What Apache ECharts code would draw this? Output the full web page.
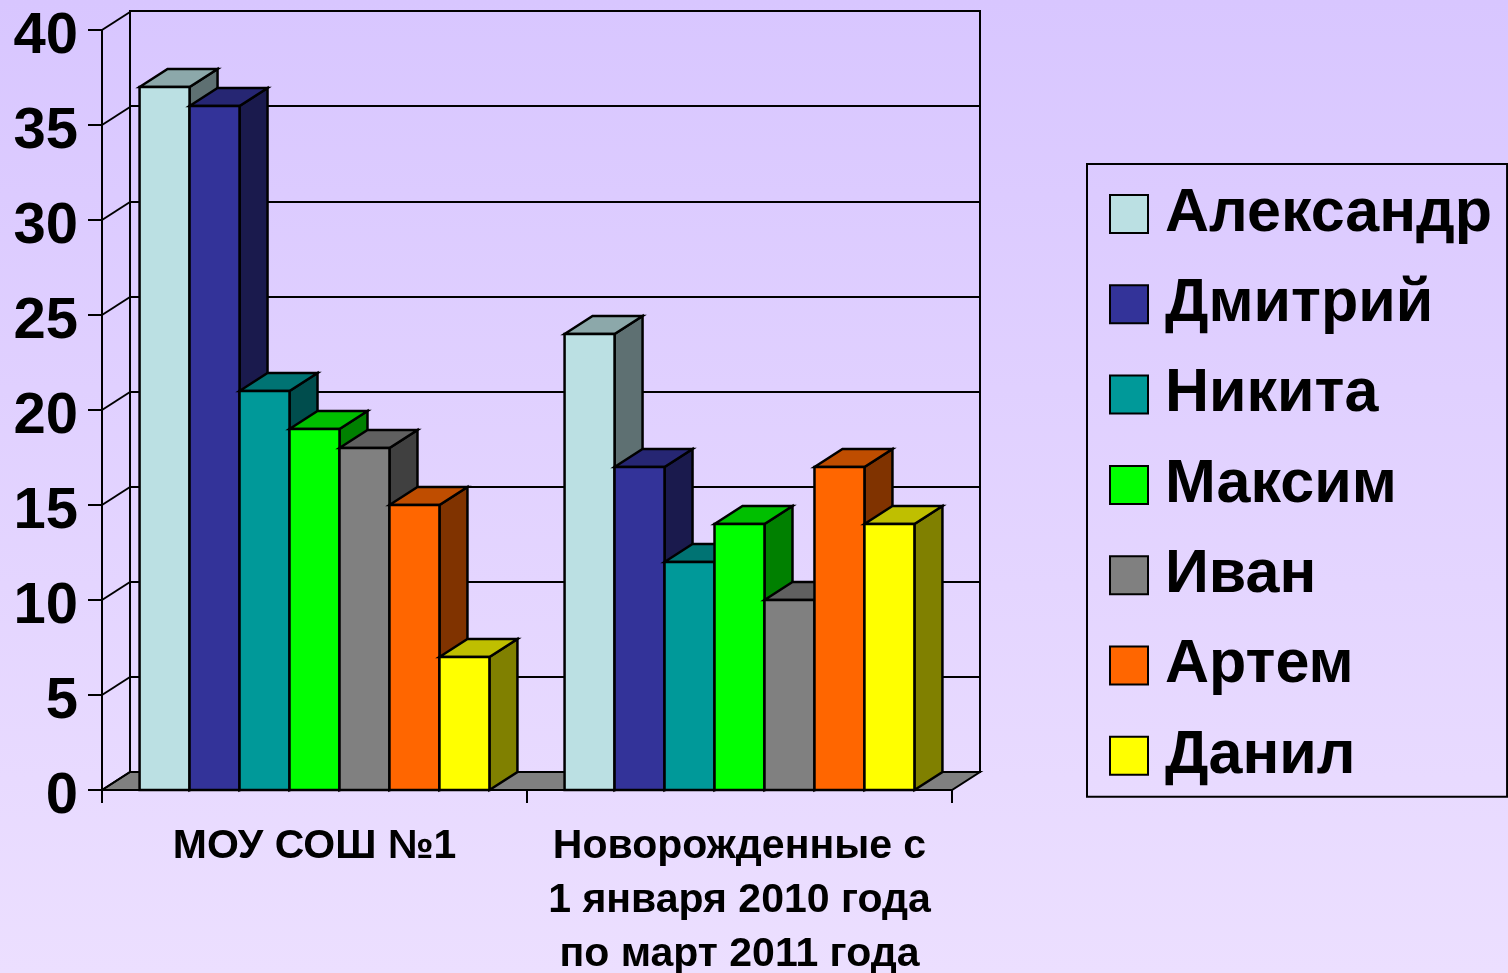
<!DOCTYPE html>
<html>
<head>
<meta charset="utf-8">
<script src="https://cdn.jsdelivr.net/npm/echarts@6/dist/echarts.min.js"></script>
<style>
  html, body { margin: 0; padding: 0; }
  #chart { width: 1508px; height: 973px; }
</style>
</head>
<body>
<div id="chart"></div>
<script>
const categories = ['МОУ СОШ №1', 'Новорожденные с\n1 января 2010 года\nпо март 2011 года']
const seriesNames = ['Александр', 'Дмитрий', 'Никита', 'Максим', 'Иван', 'Артем', 'Данил']
const aleksandr = [37, 24]
const dmitriy = [36, 17]
const nikita = [21, 12]
const maksim = [19, 14]
const ivan = [18, 10]
const artem = [15, 17]
const danil = [7, 14]
const seriesValues = [aleksandr, dmitriy, nikita, maksim, ivan, artem, danil]
const yTicks = [0, 5, 10, 15, 20, 25, 30, 35, 40]

// front, top and side faces of each bar
const faceColors = [
  ['#bbe0e3', '#8ca8aa', '#5e7072'],
  ['#333399', '#262673', '#1a1a4d'],
  ['#009999', '#007373', '#004d4d'],
  ['#00ff00', '#00bf00', '#008000'],
  ['#808080', '#606060', '#404040'],
  ['#ff6600', '#bf4d00', '#803300'],
  ['#ffff00', '#bfbf00', '#808000']
]

const depthX = 28
const depthY = 18
const lineStyle = { stroke: '#000', lineWidth: 2 }
const barLineStyle = { stroke: '#000', lineWidth: 2.5 }
const fontFamily = '"Liberation Sans", Arial, sans-serif'

function renderBar(params, api) {
  const seriesIndex = params.seriesIndex - 1
  const cat = api.value(0)
  const top = api.coord([cat, api.value(1)])
  const base = api.coord([cat, 0])
  const band = api.size([1, 0])[0]
  const barWidth = band * 0.1176
  const x = top[0] - barWidth * seriesNames.length / 2 + barWidth * seriesIndex
  const y = top[1]
  const colors = faceColors[seriesIndex]
  return {
    type: 'group',
    children: [
      {
        type: 'polygon',
        shape: { points: [[x + barWidth, y], [x + barWidth + depthX, y - depthY], [x + barWidth + depthX, base[1] - depthY], [x + barWidth, base[1]]] },
        style: Object.assign({ fill: colors[2] }, barLineStyle)
      },
      {
        type: 'polygon',
        shape: { points: [[x, y], [x + depthX, y - depthY], [x + barWidth + depthX, y - depthY], [x + barWidth, y]] },
        style: Object.assign({ fill: colors[1] }, barLineStyle)
      },
      {
        type: 'rect',
        shape: { x: x, y: y, width: barWidth, height: base[1] - y },
        style: Object.assign({ fill: colors[0] }, barLineStyle)
      }
    ]
  }
}

// floor and the diagonal lines on the left wall
function renderWalls(params, api) {
  const p = api.coord([0, api.value(0)])
  const band = api.size([1, 0])[0]
  const x0 = p[0] - band / 2
  const children = [{
    type: 'line',
    shape: { x1: x0, y1: p[1], x2: x0 + depthX, y2: p[1] - depthY },
    style: lineStyle
  }]
  if (api.value(0) === 0) {
    const x1 = x0 + band * categories.length
    children.unshift({
      type: 'polygon',
      shape: { points: [[x0, p[1]], [x0 + depthX, p[1] - depthY], [x1 + depthX, p[1] - depthY], [x1, p[1]]] },
      style: Object.assign({ fill: '#808080' }, lineStyle)
    })
  }
  return { type: 'group', children: children }
}

const barSeries = seriesNames.map((name, i) => ({
  name: name,
  type: 'custom',
  renderItem: renderBar,
  clip: false,
  z: 3,
  itemStyle: { color: faceColors[i][0], borderColor: '#000', borderWidth: 2 },
  encode: { x: 0, y: 1 },
  data: seriesValues[i].map((v, c) => [c, v])
}))

const chart = echarts.init(document.getElementById('chart'))
chart.setOption({
  animation: false,
  backgroundColor: new echarts.graphic.LinearGradient(0, 0, 0, 1, [
    { offset: 0, color: '#d8c6ff' },
    { offset: 1, color: '#ecdfff' }
  ]),
  textStyle: { fontFamily: fontFamily },
  grid: [
    { left: 102, right: 556, top: 30, bottom: 183, outerBoundsMode: 'none' },
    { left: 130, right: 528, top: 11, bottom: 201, outerBoundsMode: 'none', show: true, borderColor: '#000', borderWidth: 2 }
  ],
  xAxis: [
    {
      type: 'category',
      data: categories,
      z: 5,
      axisLine: { lineStyle: { color: '#000', width: 2 } },
      axisTick: { show: true, length: 13, lineStyle: { color: '#000', width: 2 } },
      axisLabel: { color: '#000', fontSize: 41, fontWeight: 'bold', fontFamily: fontFamily, lineHeight: 54, margin: 30, interval: 0 }
    },
    { type: 'category', gridIndex: 1, data: categories, show: false }
  ],
  yAxis: [
    {
      type: 'value',
      min: 0,
      max: 40,
      interval: 5,
      z: 5,
      axisLine: { show: true, lineStyle: { color: '#000', width: 2 } },
      axisTick: { show: true, length: 14, lineStyle: { color: '#000', width: 2 } },
      splitLine: { show: false },
      axisLabel: { color: '#000', fontSize: 58, fontWeight: 'bold', fontFamily: fontFamily, margin: 24, verticalAlign: 'top', lineHeight: 13 }
    },
    {
      type: 'value',
      gridIndex: 1,
      min: 0,
      max: 40,
      interval: 5,
      axisLabel: { show: false },
      axisTick: { show: false },
      axisLine: { show: false },
      splitLine: { lineStyle: { color: '#000', width: 2 } }
    }
  ],
  legend: {
    data: seriesNames,
    orient: 'vertical',
    left: 1087,
    top: 164,
    padding: [19.5, 15, 10.5, 22],
    itemWidth: 38,
    itemHeight: 38,
    itemGap: 29.3,
    icon: 'rect',
    borderColor: '#000',
    borderWidth: 2,
    inactiveColor: '#000',
    textStyle: { color: '#000', fontSize: 61, fontWeight: 'bold', fontFamily: fontFamily, padding: [20, 0, 0, 12] }
  },
  series: [
    {
      name: 'walls',
      type: 'custom',
      renderItem: renderWalls,
      clip: false,
      z: 2,
      encode: { y: 0 },
      data: yTicks.map(t => [t])
    }
  ].concat(barSeries)
})
</script>
</body>
</html>
